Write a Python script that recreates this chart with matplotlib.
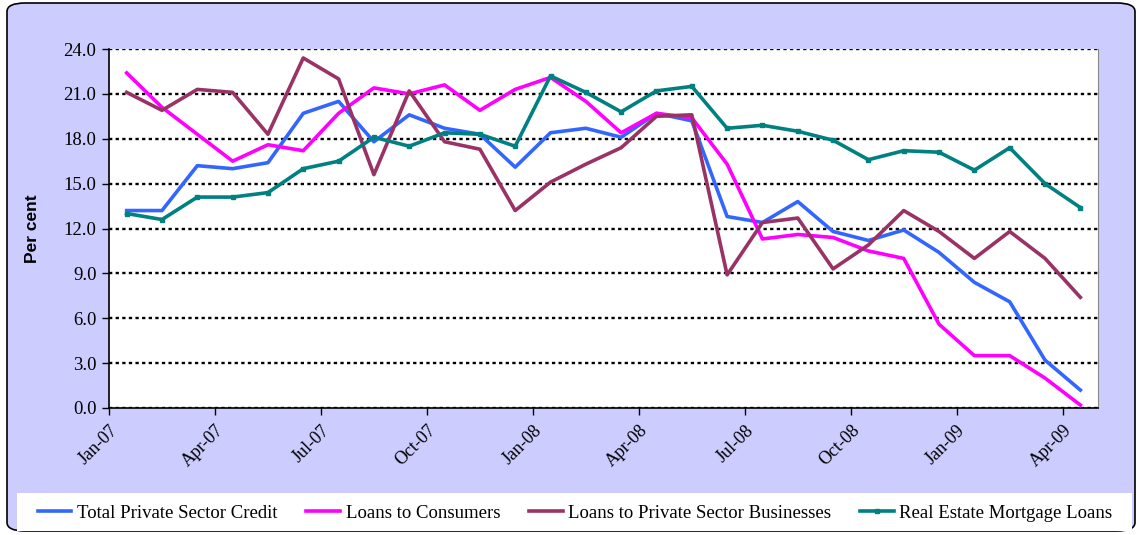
"""
Private sector credit growth, Jan-07 to Apr-09
"""

import numpy as np
import matplotlib.pyplot as plt
from matplotlib.patches import FancyBboxPatch, Rectangle

plt.rcParams['font.family'] = 'Liberation Serif'

# ============================================================
# DATA (per cent, monthly)
# ============================================================

months = ['Jan-07', 'Feb-07', 'Mar-07', 'Apr-07', 'May-07', 'Jun-07', 'Jul-07',
          'Aug-07', 'Sep-07', 'Oct-07', 'Nov-07', 'Dec-07', 'Jan-08', 'Feb-08',
          'Mar-08', 'Apr-08', 'May-08', 'Jun-08', 'Jul-08', 'Aug-08', 'Sep-08',
          'Oct-08', 'Nov-08', 'Dec-08', 'Jan-09', 'Feb-09', 'Mar-09', 'Apr-09']

total_credit = [13.2, 13.2, 16.2, 16.0, 16.4, 19.7, 20.5, 17.8, 19.6, 18.7, 18.3, 16.1,
                18.4, 18.7, 18.1, 19.7, 19.2, 12.8, 12.4, 13.8, 11.8, 11.2, 11.9, 10.4,
                8.4, 7.1, 3.2, 1.2]
consumers = [22.4, 20.1, 18.3, 16.5, 17.6, 17.2, 19.7, 21.4, 21.0, 21.6, 19.9, 21.3,
             22.1, 20.5, 18.4, 19.7, 19.4, 16.3, 11.3, 11.6, 11.4, 10.5, 10.0, 5.6,
             3.5, 3.5, 2.0, 0.2]
businesses = [21.1, 19.9, 21.3, 21.1, 18.3, 23.4, 22.0, 15.6, 21.2, 17.8, 17.3, 13.2,
              15.1, 16.3, 17.4, 19.5, 19.6, 8.9, 12.4, 12.7, 9.3, 10.9, 13.2, 11.8,
              10.0, 11.8, 10.0, 7.4]
mortgage = [13.0, 12.6, 14.1, 14.1, 14.4, 16.0, 16.5, 18.1, 17.5, 18.4, 18.3, 17.5,
            22.2, 21.1, 19.8, 21.2, 21.5, 18.7, 18.9, 18.5, 17.9, 16.6, 17.2, 17.1,
            15.9, 17.4, 15.0, 13.4]

series = [
    (total_credit, 'Total Private Sector Credit', '#3366FF', None),
    (consumers, 'Loans to Consumers', '#FF00FF', None),
    (businesses, 'Loans to Private Sector Businesses', '#993366', None),
    (mortgage, 'Real Estate Mortgage Loans', '#008080', 's'),
]

# ============================================================
# FIGURE
# ============================================================

W, H = 1137, 535
fig = plt.figure(figsize=(W / 100, H / 100), dpi=100, facecolor='white')

# lavender rounded frame behind everything
frame = FancyBboxPatch((7 / W, 4 / H), 1128 / W, 528 / H,
                       boxstyle='round,pad=0,rounding_size=0.016',
                       transform=fig.transFigure, facecolor='#CCCCFF',
                       edgecolor='black', linewidth=1.2, zorder=-10)
fig.patches.append(frame)

ax = fig.add_axes([109 / W, (H - 408) / H, 989 / W, 359 / H])
ax.set_facecolor('white')

x = np.arange(len(months)) + 0.5
for vals, name, color, marker in series:
    ax.plot(x, vals, color=color, lw=2.6, label=name, marker=marker,
            markersize=3.5, zorder=3)

# axes
ax.set_xlim(0, len(months))
ax.set_ylim(0, 24)
ax.set_yticks(np.arange(0, 24.1, 3))
ax.set_yticklabels([f'{v:.1f}' for v in np.arange(0, 24.1, 3)], fontsize=13.5)
tick_idx = np.arange(0, len(months), 3)
ax.set_xticks(tick_idx)
ax.set_xticklabels([months[i] for i in tick_idx], rotation=45, ha='right',
                   rotation_mode='anchor', fontsize=13)
ax.tick_params(axis='both', direction='out', length=5, width=1, color='black')
ax.tick_params(axis='x', pad=5)
ax.tick_params(axis='y', pad=4)

ax.grid(axis='y', color='black', linestyle=(0, (1.4, 1.4)), linewidth=1.7, zorder=1)
ax.set_axisbelow(True)
for side in ['left', 'bottom']:
    ax.spines[side].set_color('black')
    ax.spines[side].set_linewidth(1.2)
ax.spines['top'].set_visible(False)
ax.spines['right'].set_color('#888888')
ax.spines['right'].set_linewidth(0.8)

ax.set_ylabel('Per cent', fontsize=12.5, fontweight='bold',
              family='Liberation Sans', labelpad=17)

# legend on white strip
strip = Rectangle((17 / W, 4 / H), 1115 / W, 38 / H, transform=fig.transFigure,
                  facecolor='white', edgecolor='none', zorder=-5)
fig.patches.append(strip)
handles, labels = ax.get_legend_handles_labels()
leg = fig.legend(handles, labels, loc='center', ncol=4, mode='expand',
                 bbox_to_anchor=(30 / W, 3 / H, 1090 / W, 38 / H),
                 frameon=False, fontsize=13.5, handlelength=1.8,
                 handletextpad=0.3, borderaxespad=0)

plt.savefig('out.png', dpi=100, facecolor='white')
